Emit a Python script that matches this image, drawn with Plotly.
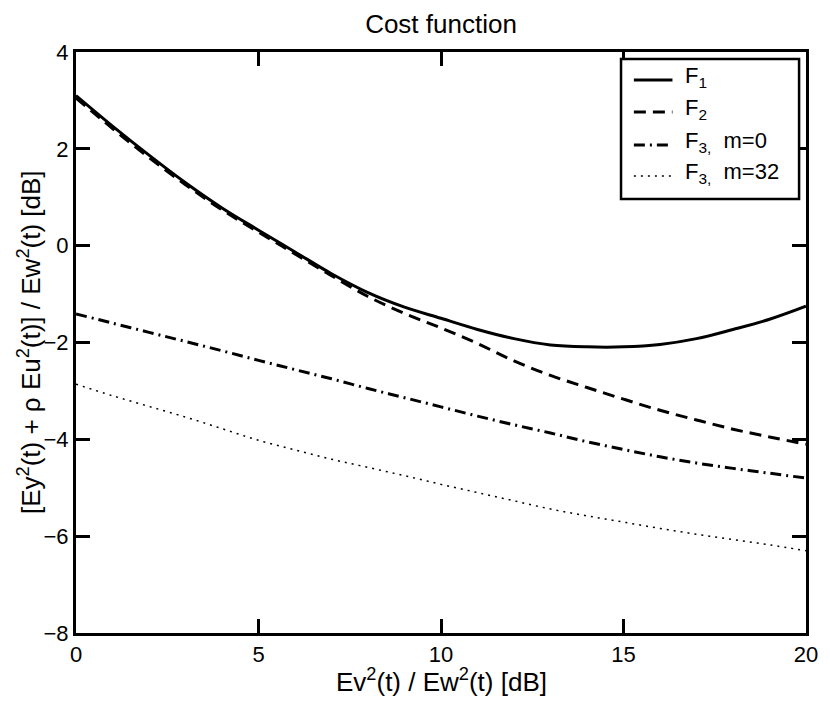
import plotly.graph_objects as go

# Ev^2/Ew^2 in dB
snr_db = list(range(0, 21))

# cost curves in dB
f1 = [3.10, 2.47, 1.87, 1.30, 0.78, 0.32, -0.13, -0.58, -0.97, -1.27, -1.50,
      -1.73, -1.92, -2.05, -2.09, -2.09, -2.04, -1.92, -1.73, -1.52, -1.25]
f2 = [3.05, 2.42, 1.82, 1.26, 0.74, 0.28, -0.17, -0.62, -1.05, -1.40, -1.70,
      -2.02, -2.38, -2.68, -2.93, -3.17, -3.40, -3.60, -3.79, -3.95, -4.10]
f3_m0 = [-1.41, -1.60, -1.79, -1.98, -2.17, -2.37, -2.56, -2.75, -2.95, -3.14, -3.33,
         -3.52, -3.70, -3.87, -4.05, -4.21, -4.36, -4.49, -4.60, -4.70, -4.80]
f3_m32 = [-2.86, -3.10, -3.32, -3.54, -3.78, -4.02, -4.22, -4.41, -4.58, -4.75, -4.93,
          -5.10, -5.27, -5.44, -5.58, -5.71, -5.84, -5.96, -6.07, -6.18, -6.30]

series_names = ["F<sub>1</sub>", "F<sub>2</sub>",
                "F<sub>3,</sub>\u00a0\u00a0m=0", "F<sub>3,</sub>\u00a0\u00a0m=32"]

x_ticks = [0, 5, 10, 15, 20]
y_ticks = [-8, -6, -4, -2, 0, 2, 4]

FONT = "Liberation Sans, Arial, Helvetica, sans-serif"
TICK_FS = 22
LABEL_FS = 26

W, H = 830, 709
L, R, T, B = 76, 16, 52, 76
PW, PH = W - L - R, H - T - B


def px_x(px):
    """Horizontal pixel position -> paper coordinate."""
    return (px - L) / PW


def px_y(py):
    """Vertical pixel position (from top) -> paper coordinate."""
    return (H - B - py) / PH


styles = [
    dict(color="black", width=3),
    dict(color="black", width=3, dash="12px,7px"),
    dict(color="black", width=3, dash="11px,5px,2px,5px"),
    dict(color="black", width=1.5, dash="2px,5px"),
]

fig = go.Figure()
for name, ys, st in zip(series_names, [f1, f2, f3_m0, f3_m32], styles):
    fig.add_trace(go.Scatter(x=snr_db, y=ys, mode="lines", name=name,
                             line=dict(shape="spline", **st), showlegend=False))

axis_common = dict(
    showline=True, linecolor="black", linewidth=3, mirror="ticks",
    ticks="inside", ticklen=14, tickwidth=3, tickcolor="black",
    showgrid=False, zeroline=False,
    tickfont=dict(family=FONT, size=TICK_FS, color="black"),
)

# legend box drawn in paper space
box_l, box_r, box_t, box_b = 627, 807, 59, 199
shapes = [dict(type="rect", xref="paper", yref="paper",
               x0=px_x(box_l), x1=px_x(box_r), y0=px_y(box_b), y1=px_y(box_t),
               line=dict(color="black", width=2.5), fillcolor="white", layer="above")]
annotations = []
row_y = [80, 112, 145, 176]
for name, st, ry in zip(series_names, styles, row_y):
    shapes.append(dict(type="line", xref="paper", yref="paper",
                       x0=px_x(640), x1=px_x(679), y0=px_y(ry), y1=px_y(ry),
                       line=st, layer="above"))
    annotations.append(dict(text=name, xref="paper", yref="paper",
                            x=px_x(690), y=px_y(ry - 3), xanchor="left", yanchor="middle",
                            showarrow=False,
                            font=dict(family=FONT, size=TICK_FS, color="black")))

# axis labels
annotations.append(dict(text="Ev<sup>2</sup>(t) / Ew<sup>2</sup>(t) [dB]",
                        xref="paper", yref="paper", x=0.5, y=px_y(680),
                        xanchor="center", yanchor="middle", showarrow=False,
                        font=dict(family=FONT, size=LABEL_FS, color="black")))
annotations.append(dict(text="[Ey<sup>2</sup>(t) + \u03c1 Eu<sup>2</sup>(t)] / Ew<sup>2</sup>(t) [dB]",
                        xref="paper", yref="paper", x=px_x(29), y=0.5, textangle=-90,
                        xanchor="center", yanchor="middle", showarrow=False,
                        font=dict(family=FONT, size=LABEL_FS, color="black")))

fig.update_layout(
    width=W, height=H,
    margin=dict(l=L, r=R, t=T, b=B),
    paper_bgcolor="white", plot_bgcolor="white",
    font=dict(family=FONT, size=TICK_FS, color="black"),
    title=dict(text="Cost function", x=0.5, xref="paper", xanchor="center",
               y=1 - 23.5 / H, yanchor="middle",
               font=dict(family=FONT, size=LABEL_FS, color="black")),
    xaxis=dict(range=[0, 20], tickvals=x_ticks, **axis_common),
    yaxis=dict(range=[-8, 4], tickvals=y_ticks, **axis_common),
    shapes=shapes,
    annotations=annotations,
    showlegend=False,
)

fig.write_html("out.html")
